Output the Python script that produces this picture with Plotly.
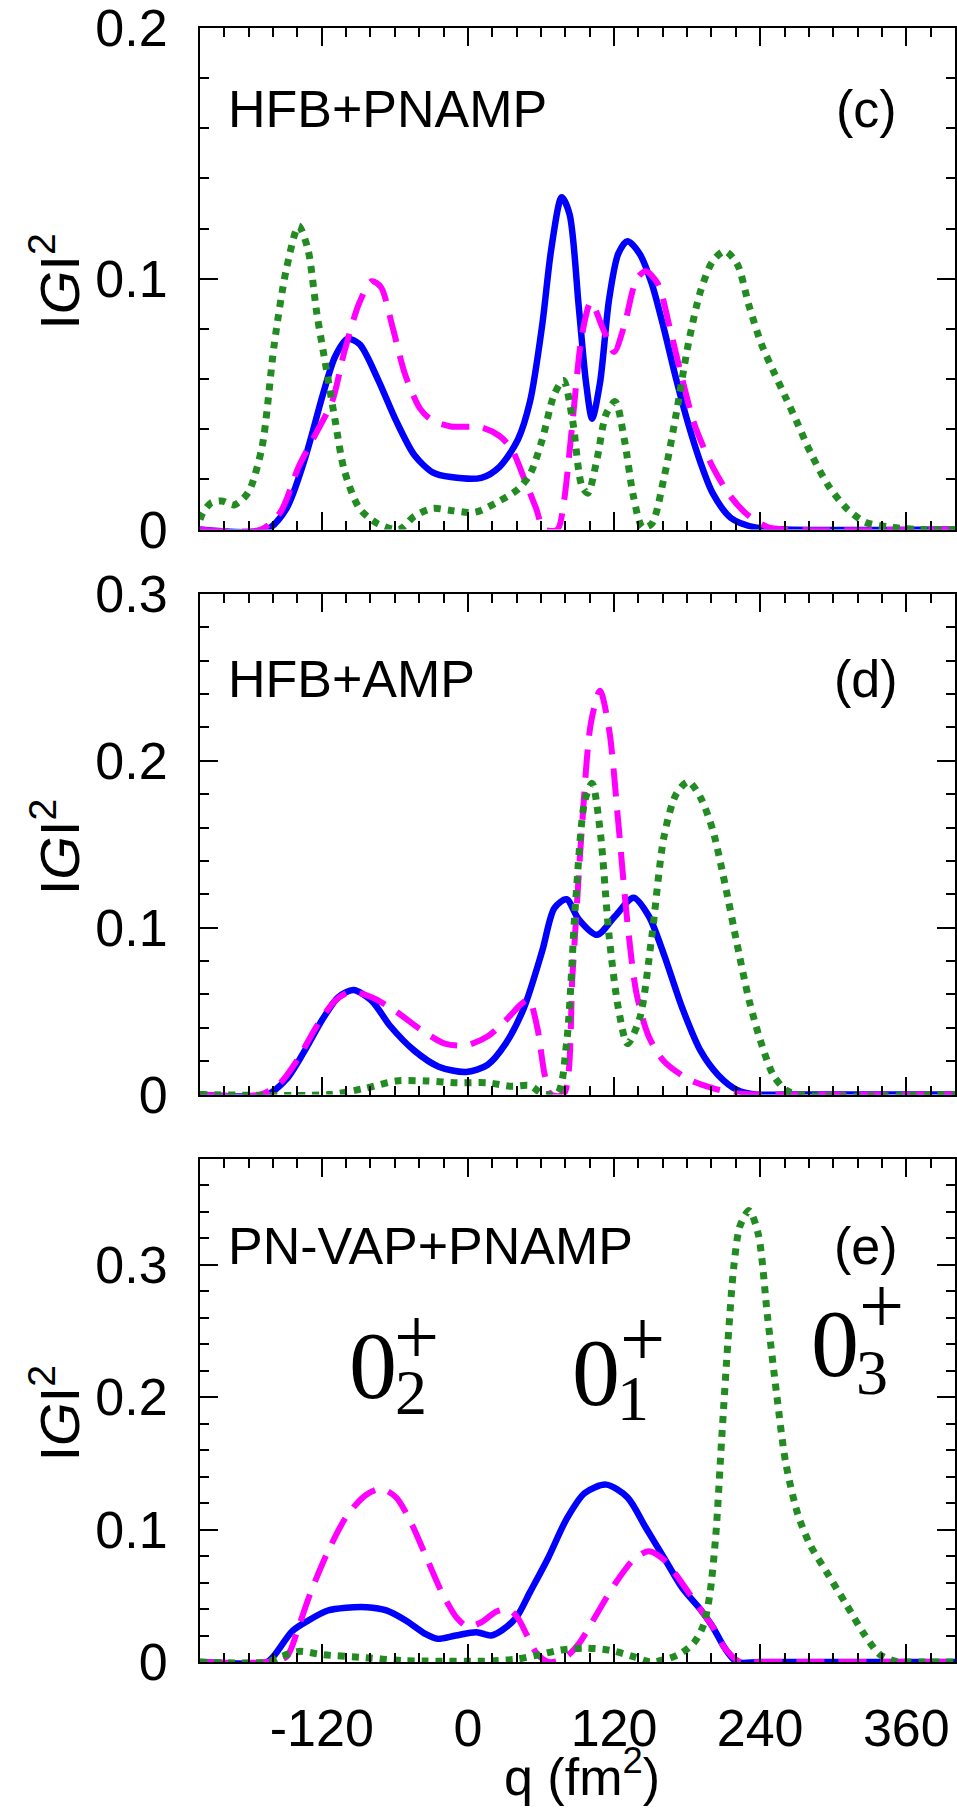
import plotly.graph_objects as go

# ---------------- data: |G|^2 versus quadrupole moment q (fm^2) ----------------
# panel (c): HFB+PNAMP
q_c_sol = [-220, -165, -149, -134, -119, -109, -99, -89, -74, -59, -44, -29, -14, 11, 26, 41, 51, 61,
           68.5, 77, 83.5, 91, 97, 102, 108.5, 116, 123.5, 131, 141, 151, 161, 171, 181, 191, 201, 216,
           236, 260, 400]
g_c_sol = [0, 0, 0.0084, 0.028, 0.054, 0.069, 0.076, 0.0739, 0.060, 0.0434, 0.0297, 0.0228, 0.0209,
           0.0206, 0.025, 0.0358, 0.051, 0.0815, 0.112, 0.1325, 0.1257, 0.089, 0.0586, 0.0442, 0.0586,
           0.092, 0.110, 0.115, 0.110, 0.098, 0.080, 0.060, 0.042, 0.0267, 0.0145, 0.0046, 0.0008, 0, 0]

q_c_dash = [-220, -170, -154, -139, -124, -111.5, -101.5, -89, -79, -71.5, -61.5, -51.5, -39, -29, -14,
            11, 26, 36, 46, 56, 62.5, 73.5, 78.5, 86, 93.5, 101, 111, 120, 128.5, 138.5, 146, 156, 166,
            176, 186, 201, 216, 231, 246, 260, 400]
g_c_dash = [0, 0, 0.0069, 0.025, 0.039, 0.051, 0.0708, 0.0906, 0.099, 0.0967, 0.080, 0.0617, 0.048,
            0.0434, 0.0411, 0.0407, 0.0373, 0.032, 0.0206, 0.0084, 0, 0, 0.0099, 0.0434, 0.077, 0.0906,
            0.080, 0.0708, 0.0815, 0.0998, 0.103, 0.098, 0.080, 0.060, 0.042, 0.025, 0.013, 0.0053,
            0.001, 0, 0]

q_c_dot = [-220, -217.7, -211, -202, -192, -184, -179, -169, -159, -149, -139, -131.5, -124, -116.5,
           -109, -101.5, -89, -74, -56.5, -44, -29, -14, 6, 26, 41, 51, 61, 71, 78.5, 86, 93.5, 98.5,
           106, 113.5, 121, 128.5, 136, 143.5, 151, 161, 171, 181, 191, 201, 211, 221, 231, 241, 251,
           261, 271, 281, 296, 311, 326, 346, 370, 400]
g_c_dot = [0.004, 0.0066, 0.0106, 0.0114, 0.0098, 0.0126, 0.016, 0.033, 0.074, 0.104, 0.121, 0.112,
           0.086, 0.0647, 0.0434, 0.0236, 0.0084, 0.0023, 0, 0.0053, 0.0084, 0.0076, 0.0069, 0.0114,
           0.016, 0.022, 0.0358, 0.054, 0.0594, 0.0434, 0.0175, 0.0145, 0.028, 0.046, 0.051, 0.0358,
           0.013, 0.0008, 0.0023, 0.0206, 0.046, 0.074, 0.095, 0.107, 0.111, 0.106, 0.089, 0.074, 0.063,
           0.0526, 0.042, 0.031, 0.0175, 0.0084, 0.003, 0.001, 0, 0]

# panel (d): HFB+AMP
q_d_sol = [-220, -165, -149, -134, -119, -106.5, -94, -79, -64, -44, -24, -1.5, 16, 31, 46, 61, 71, 81,
           91, 106, 121, 136, 148.5, 161, 176, 191, 206, 221, 236, 260, 400]
g_d_sol = [0, 0, 0.0092, 0.0263, 0.0455, 0.0583, 0.0626, 0.0562, 0.0412, 0.0263, 0.0167, 0.0135,
           0.0177, 0.0305, 0.0519, 0.086, 0.1117, 0.117, 0.105, 0.0957, 0.107, 0.118, 0.107, 0.0839,
           0.0519, 0.0263, 0.0113, 0.0028, 0, 0, 0]

q_d_dash = [-220, -170, -154, -139, -124, -109, -96.5, -79, -59, -39, -19, -1.5, 16, 31, 43.5, 50, 57,
            63, 68, 78.5, 86, 93.5, 101, 108.5, 116, 123.5, 131, 138.5, 148.5, 161, 181, 201, 221, 240,
            400]
g_d_dash = [0, 0, 0.007, 0.022, 0.0412, 0.0562, 0.0615, 0.0583, 0.0497, 0.039, 0.0305, 0.0295, 0.0348,
            0.0444, 0.054, 0.057, 0.040, 0.012, 0, 0, 0.0732, 0.1587, 0.2227, 0.242, 0.2185, 0.163,
            0.103, 0.0604, 0.0348, 0.0199, 0.0092, 0.0038, 0.0006, 0, 0]

q_d_dot = [-220, -114, -84, -59, -34, -9, 16, 36, 51, 61, 73.5, 81, 88.5, 96, 102, 108.5, 116, 123.5,
           131, 141, 151, 161, 171, 181, 191, 201, 211, 221, 231, 241, 251, 261, 271, 400]
g_d_dot = [0, 0, 0.0038, 0.0081, 0.0081, 0.007, 0.007, 0.0049, 0.0053, 0.0006, 0.0006, 0.0305, 0.116,
           0.176, 0.1865, 0.1587, 0.0946, 0.0519, 0.0305, 0.0455, 0.0946, 0.1544, 0.18, 0.1875, 0.178,
           0.1587, 0.1266, 0.0903, 0.0562, 0.0305, 0.0113, 0.0028, 0, 0]

# panel (e): PN-VAP+PNAMP
q_e_sol = [-220, -165, -159, -144, -131, -115, -100, -83, -67, -51, -34.5, -25, -10, 7, 19, 28, 40, 51,
           66, 81, 96, 113.5, 131, 146, 161, 176, 191, 201, 211, 221, 240, 400]
g_e_sol = [0, 0, 0.005, 0.0235, 0.0314, 0.0389, 0.041, 0.0414, 0.039, 0.0314, 0.021, 0.0175, 0.020,
           0.0225, 0.020, 0.024, 0.034, 0.0528, 0.0788, 0.108, 0.1277, 0.134, 0.1244, 0.1016, 0.0788,
           0.056, 0.0397, 0.0267, 0.0104, 0, 0, 0]

q_e_dash = [-220, -165, -149, -139, -129, -114, -99, -84, -71.5, -59, -46.5, -34, -21.5, -9, 0, 11,
            23.5, 33.5, 41, 48.5, 56, 66, 78.5, 91, 106, 121, 136, 148.5, 161, 171, 181, 191, 201, 211,
            223.5, 240, 400]
g_e_dash = [0, 0, 0.0039, 0.0267, 0.0528, 0.0853, 0.111, 0.126, 0.131, 0.1244, 0.1049, 0.0788, 0.0528,
            0.0332, 0.0267, 0.03, 0.0381, 0.0397, 0.0332, 0.0202, 0.0072, 0, 0.0023, 0.0137, 0.0365,
            0.0593, 0.0772, 0.0837, 0.0772, 0.0658, 0.0528, 0.0397, 0.0267, 0.0104, 0, 0, 0]

q_e_dot = [-220, -165, -154, -139, -119, -84, -54, -34, 16, 41, 56, 76, 96, 116, 136, 150, 166, 176,
           186, 193.5, 198.5, 203.5, 208.5, 213.5, 218.5, 223.5, 231, 238.5, 246, 253.5, 261, 271, 281,
           296, 311, 326, 338.5, 351, 370, 400]
g_e_dot = [0, 0, 0.0039, 0.008, 0.0055, 0.0033, 0.001, 0.0007, 0.0007, 0.0023, 0.005, 0.009, 0.0105,
           0.009, 0.004, 0, 0.003, 0.0072, 0.015, 0.028, 0.05, 0.095, 0.17, 0.2417, 0.300, 0.3296, 0.341,
           0.323, 0.2612, 0.2026, 0.1505, 0.1114, 0.0886, 0.0658, 0.043, 0.0202, 0.0055, 0.0007, 0, 0]

panel_tags = ["(c)", "(d)", "(e)"]
panel_names = ["HFB+PNAMP", "HFB+AMP", "PN-VAP+PNAMP"]
y_max = [0.2, 0.3, 0.38]
y_ticks = [[0, 0.1, 0.2], [0, 0.1, 0.2, 0.3], [0, 0.1, 0.2, 0.3]]
y_ticktext = [["0", "0.1", "0.2"], ["0", "0.1", "0.2", "0.3"], ["0", "0.1", "0.2", "0.3"]]
x_ticks = [-120, 0, 120, 240, 360]
x_ticktext = ["-120", "0", "120", "240", "360"]

# ---------------- layout geometry ----------------
W, H = 957, 1808
ML, MR, MT, MB = 200, 2, 28, 146
PW, PH = W - ML - MR, H - MT - MB
panel_px = [(28, 529.5), (594, 1094.5), (1159, 1662)]  # top / bottom of each frame


def py(ypx):
    return (H - MB - ypx) / PH


def px(xpx):
    return (xpx - ML) / PW


SANS = "Arial, 'Liberation Sans', Helvetica, sans-serif"
SERIF = "'Liberation Serif', 'Times New Roman', 'DejaVu Serif', serif"
FS = 52

BLUE, MAGENTA, GREEN = "#0000ff", "#ff00ff", "#228b22"

fig = go.Figure()

series = [
    (q_c_sol, g_c_sol, q_c_dash, g_c_dash, q_c_dot, g_c_dot),
    (q_d_sol, g_d_sol, q_d_dash, g_d_dash, q_d_dot, g_d_dot),
    (q_e_sol, g_e_sol, q_e_dash, g_e_dash, q_e_dot, g_e_dot),
]

for i, (qs, gs, qd, gd, qo, go_) in enumerate(series):
    xa = "x" if i == 0 else f"x{i + 1}"
    ya = "y" if i == 0 else f"y{i + 1}"
    fig.add_trace(go.Scatter(x=qs, y=gs, xaxis=xa, yaxis=ya, mode="lines",
                             line=dict(color=BLUE, width=6.5, shape="spline", smoothing=0.8)))
    fig.add_trace(go.Scatter(x=qd, y=gd, xaxis=xa, yaxis=ya, mode="lines",
                             line=dict(color=MAGENTA, width=6, dash="28px,14px",
                                       shape="spline", smoothing=0.8)))
    fig.add_trace(go.Scatter(x=qo, y=go_, xaxis=xa, yaxis=ya, mode="lines",
                             line=dict(color=GREEN, width=7, dash="7px,7px",
                                       shape="spline", smoothing=0.8)))

common = dict(showline=True, linewidth=2, linecolor="black", mirror="allticks",
              ticks="inside", tickwidth=2, tickcolor="black", ticklen=18,
              showgrid=False, zeroline=False, automargin=False, ticklabeloverflow="allow",
              tickfont=dict(family=SANS, size=FS, color="black"))

layout = dict(width=W, height=H, margin=dict(l=ML, r=MR, t=MT, b=MB),
              paper_bgcolor="white", plot_bgcolor="white", showlegend=False)

for i in range(3):
    top, bot = panel_px[i]
    xk = "xaxis" if i == 0 else f"xaxis{i + 1}"
    yk = "yaxis" if i == 0 else f"yaxis{i + 1}"
    ya = "y" if i == 0 else f"y{i + 1}"
    xa = "x" if i == 0 else f"x{i + 1}"
    layout[xk] = dict(common, domain=[0, 1], anchor=ya, range=[-220, 400],
                      tickmode="array", tickvals=x_ticks, ticktext=x_ticktext,
                      showticklabels=(i == 2), ticklabelstandoff=20,
                      minor=dict(dtick=20, tick0=0, ticks="inside", ticklen=9,
                                 tickwidth=2, tickcolor="black", showgrid=False))
    layout[yk] = dict(common, domain=[max(py(bot), 0), min(py(top), 1)], anchor=xa,
                      range=[0, y_max[i]], tickmode="array", tickvals=y_ticks[i],
                      ticktext=y_ticktext[i], ticklabelstandoff=20,
                      minor=dict(dtick=0.02, tick0=0, ticks="inside", ticklen=9,
                                 tickwidth=2, tickcolor="black", showgrid=False))

fig.update_layout(**layout)

ann = []
label_y = [109, 679, 1246]
for i in range(3):
    top, bot = panel_px[i]
    ann.append(dict(text=panel_names[i], x=px(226), y=py(label_y[i]), xref="paper", yref="paper",
                    xanchor="left", yanchor="middle", showarrow=False,
                    font=dict(family=SANS, size=FS, color="black")))
    ann.append(dict(text=panel_tags[i], x=px(866), y=py(label_y[i]), xref="paper", yref="paper",
                    xanchor="center", yanchor="middle", showarrow=False,
                    font=dict(family=SANS, size=FS, color="black")))
    ann.append(dict(text="I<i>G</i>I<sup>2</sup>", x=px(56), y=py((top + bot) / 2 + 3),
                    xref="paper", yref="paper", xanchor="center", yanchor="middle",
                    textangle=-90, showarrow=False,
                    font=dict(family=SANS, size=56, color="black")))

ann.append(dict(text="q (fm<sup>2</sup>)", x=px(582), y=py(1773), xref="paper", yref="paper",
                xanchor="center", yanchor="middle", showarrow=False,
                font=dict(family=SANS, size=FS, color="black")))

# state labels 0+_n drawn as base digit, subscript index and superscript plus
states = [("2", 373, 1365, 411, 1392, 416, 1337),
          ("1", 596, 1372, 633, 1398, 642, 1339),
          ("3", 835, 1343, 872, 1372, 881, 1306)]
for idx, x0, y0, xs, ys, xp, yp in states:
    ann.append(dict(text="0", x=px(x0), y=py(y0), xref="paper", yref="paper",
                    xanchor="center", yanchor="middle", showarrow=False,
                    font=dict(family=SERIF, size=96, color="black")))
    ann.append(dict(text=idx, x=px(xs), y=py(ys), xref="paper", yref="paper",
                    xanchor="center", yanchor="middle", showarrow=False,
                    font=dict(family=SERIF, size=64, color="black")))
    ann.append(dict(text="+", x=px(xp), y=py(yp), xref="paper", yref="paper",
                    xanchor="center", yanchor="middle", showarrow=False,
                    font=dict(family=SERIF, size=80, color="black")))

fig.update_layout(annotations=ann)
fig.write_html("out.html")
